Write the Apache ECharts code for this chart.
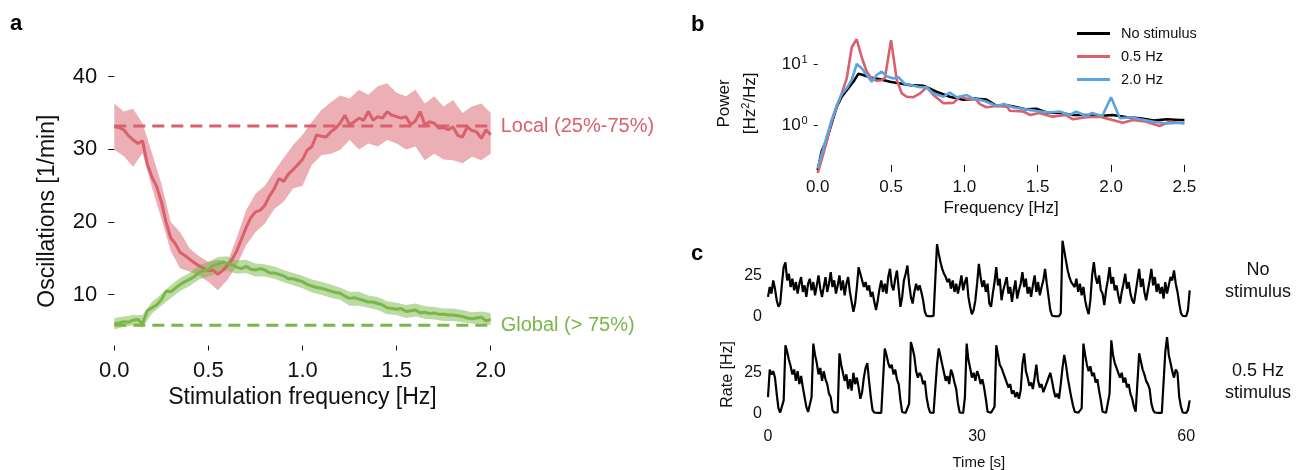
<!DOCTYPE html>
<html>
<head>
<meta charset="utf-8">
<script src="https://cdn.jsdelivr.net/npm/echarts@6/dist/echarts.min.js"></script>
<style>
  html, body { margin: 0; padding: 0; background: #fff; }
  #main { width: 1297px; height: 470px; }
</style>
</head>
<body>
<div id="main"></div>
<script>
// ---- panel a : oscillations vs stimulation frequency ----
var freqMid = [];   // 0 .. 2 Hz, step 0.025
for (var i = 0; i <= 80; i++) freqMid.push(+(i * 0.025).toFixed(3));
var freqBand = [];  // 0 .. 2 Hz, step 0.05
for (var i = 0; i <= 40; i++) freqBand.push(+(i * 0.05).toFixed(2));

var redMid = [33.1, 33.0, 32.7, 31.9, 31.3, 30.8, 31.2, 28.0, 26.2, 24.9,
  22.8, 20.0, 17.8, 17.0, 15.8, 15.4, 14.9, 14.4, 14.0, 13.6,
  13.3, 13.4, 12.8, 13.3, 14.0, 14.8, 16.0, 17.6, 19.2, 20.6,
  21.4, 21.6, 22.3, 23.6, 24.6, 26.0, 25.6, 26.6, 27.2, 27.9,
  28.6, 29.9, 30.4, 32.0, 31.8, 31.7, 32.4, 32.9, 33.6, 34.7,
  33.4, 33.8, 34.3, 34.0, 35.2, 34.0, 34.5, 34.3, 35.2, 34.7,
  34.5, 34.3, 34.5, 33.4, 33.9, 35.2, 33.4, 33.8, 33.6, 32.9,
  33.0, 32.7, 33.1, 31.9, 31.7, 33.1, 32.6, 32.4, 31.5, 32.7, 32.0];
var greenMid = [6.0, 6.1, 6.3, 6.2, 6.5, 6.6, 6.0, 7.8, 8.2, 8.6,
  9.3, 10.5, 10.4, 10.9, 11.4, 11.8, 12.1, 12.5, 13.1, 13.3,
  13.5, 14.0, 14.2, 14.5, 14.3, 14.1, 13.8, 13.6, 13.9, 13.5,
  13.4, 13.6, 13.4, 13.0, 13.0, 12.8, 12.6, 12.2, 12.2, 12.0,
  11.8, 11.4, 11.2, 11.0, 10.9, 10.7, 10.5, 10.3, 10.2, 9.8,
  9.5, 9.6, 9.4, 9.2, 9.0, 9.0, 8.8, 8.6, 8.2, 8.1,
  8.0, 8.1, 7.7, 7.8, 7.9, 7.5, 7.6, 7.4, 7.5, 7.3,
  7.3, 7.2, 7.2, 7.1, 7.0, 6.8, 6.7, 6.8, 6.9, 6.4, 6.6];
var redLow = [29.9, 29.1, 27.6, 29.5, 24.8, 20.5, 16.0, 13.6, 13.2, 12.6,
  11.8, 10.6, 12.0, 14.0, 16.8, 18.6, 19.8, 21.8, 22.8, 24.6,
  25.0, 27.9, 29.2, 29.4, 29.9, 31.3, 30.0, 30.8, 30.4, 31.3,
  30.8, 30.0, 30.4, 28.5, 29.4, 28.6, 28.5, 28.1, 29.0, 28.5, 29.4];
var redHigh = [36.3, 35.2, 35.6, 33.6, 29.5, 25.3, 20.0, 18.6, 16.4, 15.3,
  14.5, 14.8, 14.4, 17.8, 21.6, 23.9, 25.0, 27.0, 28.8, 30.6,
  32.0, 33.8, 35.4, 36.5, 37.4, 37.0, 38.2, 37.5, 38.7, 39.1,
  37.8, 37.3, 38.2, 36.3, 37.3, 35.9, 36.8, 35.0, 35.9, 36.3, 35.0];
var greenLow = [5.2, 5.6, 5.8, 5.5, 7.4, 8.5, 9.5, 10.5, 11.2, 12.1,
  12.5, 13.0, 13.3, 12.9, 13.0, 12.5, 12.5, 12.2, 11.7, 11.3,
  10.9, 10.3, 10.0, 9.6, 9.3, 8.5, 8.5, 8.2, 7.9, 7.3,
  7.2, 6.8, 7.0, 6.7, 6.6, 6.4, 6.4, 6.2, 6.0, 6.0, 5.8];
var greenHigh = [6.8, 7.0, 7.2, 7.2, 9.0, 10.1, 11.3, 12.3, 13.0, 14.1,
  14.5, 15.2, 15.3, 14.7, 14.8, 14.3, 14.2, 13.9, 13.4, 13.0,
  12.6, 12.1, 11.8, 11.4, 11.0, 10.4, 10.4, 9.9, 9.7, 9.1,
  8.9, 8.6, 8.8, 8.4, 8.3, 8.1, 8.1, 7.9, 7.6, 7.7, 7.5];
var localLevel = 33.2;
var globalLevel = 5.8;
var oscTicks = [10, 20, 30, 40];

// ---- panel b : power spectra ----
var fBlack = [0, 0.027, 0.061, 0.095, 0.13, 0.164, 0.198, 0.243, 0.277, 0.311,
  0.357, 0.425, 0.493, 0.561, 0.63, 0.72, 0.81, 0.9, 0.993, 1.08,
  1.15, 1.22, 1.29, 1.36, 1.42, 1.49, 1.56, 1.65, 1.74, 1.83,
  1.92, 2.01, 2.11, 2.2, 2.29, 2.38, 2.47, 2.5];
var pBlack = [0.18, 0.37, 0.57, 1.06, 2.0, 2.9, 3.7, 5.1, 6.9, 6.6,
  6.0, 5.6, 5.1, 4.8, 4.5, 4.4, 3.5, 2.9, 2.6, 2.7,
  2.6, 2.05, 2.1, 1.95, 1.8, 1.85, 1.6, 1.57, 1.46, 1.46,
  1.40, 1.46, 1.34, 1.29, 1.18, 1.24, 1.21, 1.21];
var fRed = [0, 0.027, 0.061, 0.095, 0.13, 0.164, 0.198, 0.232, 0.266, 0.3,
  0.334, 0.368, 0.402, 0.436, 0.459, 0.5, 0.539, 0.573, 0.607, 0.652,
  0.698, 0.743, 0.789, 0.857, 0.925, 0.97, 1.016, 1.08, 1.106, 1.15,
  1.22, 1.29, 1.31, 1.40, 1.45, 1.51, 1.60, 1.69, 1.74, 1.83,
  1.92, 2.01, 2.08, 2.15, 2.24, 2.33, 2.4, 2.5];
var pRed = [0.16, 0.27, 0.53, 1.13, 2.0, 3.3, 5.8, 18.8, 25.4, 12.9,
  7.5, 5.8, 5.3, 5.4, 6.0, 24.6, 5.5, 3.3, 2.9, 2.85,
  3.3, 4.15, 3.1, 2.27, 2.3, 2.9, 2.7, 2.6, 2.2, 1.95,
  2.05, 2.0, 1.71, 1.66, 1.46, 1.57, 1.37, 1.46, 1.24, 1.34,
  1.37, 1.21, 1.09, 1.21, 1.13, 0.96, 1.13, 1.06];
var fBlue = [0, 0.027, 0.061, 0.095, 0.13, 0.164, 0.198, 0.232, 0.266, 0.3,
  0.334, 0.368, 0.402, 0.436, 0.47, 0.516, 0.55, 0.595, 0.641, 0.698,
  0.743, 0.789, 0.857, 0.9, 0.948, 1.016, 1.06, 1.106, 1.15, 1.22,
  1.27, 1.33, 1.42, 1.51, 1.58, 1.65, 1.72, 1.76, 1.83, 1.87,
  1.94, 2.0, 2.06, 2.13, 2.2, 2.29, 2.38, 2.47, 2.5];
var pBlue = [0.195, 0.33, 0.64, 1.21, 2.1, 3.2, 4.0, 5.5, 10.0, 8.5,
  6.6, 5.1, 6.6, 7.5, 6.3, 5.8, 6.1, 4.7, 4.5, 4.15,
  4.15, 3.3, 2.9, 3.4, 2.85, 3.1, 2.7, 2.6, 2.4, 2.05,
  2.2, 1.95, 1.8, 1.67, 1.6, 1.66, 1.46, 1.66, 1.4, 1.57,
  1.40, 2.84, 1.29, 1.34, 1.24, 1.13, 1.06, 1.09, 1.09];
var powerTicks = [1, 10];

// ---- panel c : population rate traces (0.25 s samples) ----
var tTrace = [];
for (var i = 0; i <= 242; i++) tTrace.push(i * 0.25);
var rateNoStim = [
  12, 18, 14, 22, 17, 10, 6, 8,   20, 30, 33, 22, 26, 18, 23, 16,
  21, 14, 20, 24, 15, 19, 12, 20, 23, 16, 21, 13, 19, 25, 17, 12,
  18, 24, 15, 20, 27, 18, 22, 14, 19, 25, 16, 22, 13, 20, 24, 15,
  9, 3, 8, 18, 30, 26, 22, 18,    21, 16, 19, 12, 15, 9, 4, 10,
  17, 22, 15, 20, 14, 24, 29, 19, 16, 23, 28, 17, 6, 12, 22, 26,
  31, 20, 12, 8, 15, 20, 16, 19,  15, 10, 3, 0.5, 0.3, 0.2, 0.3, 0.5,
  1, 44, 38, 33, 29, 26, 24, 21,  23, 17, 22, 15, 20, 14, 19, 25,
  16, 21, 24, 12, 6, 1.5, 4, 10,  20, 32, 24, 18, 22, 15, 20, 8,
  6, 14, 21, 30, 19, 23, 10, 16,  20, 24, 14, 18, 9, 16, 22, 11,
  16, 20, 27, 18, 23, 14, 18, 12, 19, 25, 15, 21, 13, 18, 22, 29,
  20, 12, 4, 0.6, 0.3, 0.2, 0.3, 0.4, 2, 46, 40, 34, 28, 24, 21, 22,
  18, 23, 15, 20, 13, 18, 10, 5,  1.5, 10, 25, 33, 24, 20, 25, 16,
  14, 7, 16, 22, 30, 20, 24, 16,  19, 13, 8, 15, 20, 26, 17, 21,
  14, 10, 8, 15, 22, 29, 18, 23,  15, 10, 16, 22, 29, 19, 24, 15,
  20, 14, 18, 11, 21, 14, 19, 24, 22, 28, 20, 15, 8, 2, 0.5, 0.3,
  0.3, 4, 16];
var rateStim = [
  10, 27, 24, 26, 22, 12, 3, 0.5, 0.3, 8, 42, 38, 33, 29, 24, 27,
  20, 26, 18, 23, 16, 10, 4, 0.8, 0.3, 10, 43, 36, 31, 24, 28, 20,
  26, 21, 18, 12, 10, 2, 0.5, 0.3, 0.5, 37, 30, 25, 20, 24, 15, 21,
  14, 25, 18, 22, 16, 9, 13, 22,  28, 31, 20, 10, 2, 0.5, 0.3, 0.3,
  0.3, 0.3, 0.5, 40, 36, 31, 28, 30, 24, 27, 21, 18, 8, 0.8, 0.3, 0.3,
  0.3, 6, 44, 40, 35, 26, 22, 25, 23, 18, 20, 10, 4, 0.5, 0.3, 0.3,
  0.5, 30, 40, 35, 30, 25, 20, 23, 18, 27, 24, 19, 15, 6, 0.5, 0.3,
  0.3, 10, 43, 33, 28, 22, 25, 20, 26, 23, 18, 21, 16, 9, 1, 0.3,
  0.3, 0.3, 4, 42, 36, 30, 28, 25, 22, 19, 16, 18, 12, 14, 10, 13,
  9, 14, 30, 37, 26, 22, 17, 19,  15, 22, 30, 20, 16, 18, 13, 16,
  19, 22, 25, 20, 14, 10, 12, 9,  18, 28, 36, 30, 22, 16, 10, 5,
  1, 0.3, 0.3, 0.3, 3, 43, 36, 30, 26, 29, 23, 25, 19, 21, 14, 8,
  1, 0.3, 0.3, 0.5, 12, 45, 36, 31, 28, 25, 22, 25, 19, 22, 16, 18,
  12, 9, 4, 1, 0.5, 37, 32, 27,   24, 20, 18, 15, 6, 2, 0.5, 0.3,
  0.3, 0.3, 0.3, 0.5, 38, 47, 36, 31, 26, 22, 27, 25, 10, 4, 0.5, 0.3,
  0.3, 2, 8];
var rateTicks = [0, 25];
var timeTicks = [0, 30, 60];

var RED = '#d9606c', GREEN = '#7ab648', BLUE = '#5aa5e0';
var FONT = 'Liberation Sans, Arial, sans-serif';
var INK = '#111';

function zip(xs, ys) {
  var out = [];
  for (var k = 0; k < Math.min(xs.length, ys.length); k++) out.push([xs[k], ys[k]]);
  return out;
}

// shaded 25-75% band, drawn once as one polygon through the axis scales
function bandSeries(xs, lo, hi, fill) {
  var rows = [];
  for (var k = 0; k < xs.length; k++) rows.push([xs[k], lo[k], hi[k]]);
  return {
    type: 'custom', xAxisIndex: 0, yAxisIndex: 0, silent: true, z: 1,
    encode: { x: 0, y: [1, 2] },
    data: rows,
    renderItem: function (params, api) {
      if (params.dataIndex !== 0) return null;
      var pts = [];
      for (var k = 0; k < rows.length; k++) pts.push(api.coord([rows[k][0], rows[k][2]]));
      for (var k = rows.length - 1; k >= 0; k--) pts.push(api.coord([rows[k][0], rows[k][1]]));
      return { type: 'polygon', shape: { points: pts }, style: { fill: fill } };
    }
  };
}

var myChart = echarts.init(document.getElementById('main'), null, {renderer: 'canvas'});

var option = {
  animation: false,
  backgroundColor: '#fff',
  textStyle: { fontFamily: FONT },
  grid: [
    { left: 114.3, top: 76.7, width: 376.4, height: 268.9, outerBoundsMode: 'none' },
    { left: 817.7, top: 34.9, width: 366.7, height: 137, outerBoundsMode: 'none' },
    { left: 768, top: 237.5, width: 421.7, height: 79.2, outerBoundsMode: 'none' },
    { left: 768, top: 335.5, width: 421.7, height: 77.8, outerBoundsMode: 'none' }
  ],
  legend: {
    orient: 'vertical', left: 1077, top: 26, itemGap: 8, padding: 0,
    itemWidth: 33, itemHeight: 3, icon: 'rect',
    textStyle: { fontSize: 14.5, color: INK, fontFamily: FONT, padding: [0, 0, 0, 6] },
    data: ['No stimulus', '0.5 Hz', '2.0 Hz']
  },
  xAxis: [
    { gridIndex: 0, type: 'value', min: 0, max: 2, interval: 0.5,
      axisLine: { show: false }, splitLine: { show: false },
      axisTick: { show: true, length: 5, lineStyle: { color: INK, width: 1 } },
      axisLabel: { fontSize: 22, color: INK, margin: 14, formatter: function (v) { return v.toFixed(1); } },
      name: 'Stimulation frequency [Hz]', nameLocation: 'middle', nameGap: 40,
      nameTextStyle: { fontSize: 23, color: INK } },
    { gridIndex: 1, type: 'value', min: 0, max: 2.5, interval: 0.5,
      axisLine: { show: false }, splitLine: { show: false },
      axisTick: { show: true, inside: true, length: 7, lineStyle: { color: INK } },
      axisLabel: { fontSize: 17, color: INK, margin: 7, formatter: function (v) { return v.toFixed(1); } },
      name: 'Frequency [Hz]', nameLocation: 'middle', nameGap: 28,
      nameTextStyle: { fontSize: 17, color: INK } },
    { gridIndex: 2, type: 'value', min: 0, max: 60.5,
      axisLine: { show: false }, splitLine: { show: false },
      axisTick: { show: false }, axisLabel: { show: false } },
    { gridIndex: 3, type: 'value', min: 0, max: 60.5,
      axisLine: { show: false }, splitLine: { show: false }, axisTick: { show: false },
      axisLabel: { customValues: timeTicks, fontSize: 16, color: INK, margin: 15 },
      name: 'Time [s]', nameLocation: 'middle', nameGap: 42,
      nameTextStyle: { fontSize: 15, color: INK } }
  ],
  yAxis: [
    { gridIndex: 0, type: 'value', min: 3, max: 40,
      axisLine: { show: false }, splitLine: { show: false },
      axisTick: { show: true, length: 6, customValues: oscTicks, lineStyle: { color: INK } },
      axisLabel: { customValues: oscTicks, fontSize: 22, color: INK, margin: 17 },
      name: 'Oscillations [1/min]', nameLocation: 'middle', nameGap: 55,
      nameTextStyle: { fontSize: 23, color: INK } },
    { gridIndex: 1, type: 'log', logBase: 10, min: 0.17, max: 30,
      axisLine: { show: false }, splitLine: { show: false },
      axisTick: { show: true, length: 4, customValues: powerTicks, lineStyle: { color: INK } },
      axisLabel: { customValues: powerTicks, fontSize: 17, color: INK, margin: 10,
        formatter: function (v) { return '10{s|' + Math.round(Math.log(v) / Math.LN10) + '}'; },
        rich: { s: { fontSize: 11, color: INK, padding: [0, 0, 9, 1] } } },
      name: 'Power\n[Hz{s|2}/Hz]', nameLocation: 'middle', nameGap: 54,
      nameTextStyle: { fontSize: 17, color: INK, lineHeight: 26,
        rich: { s: { fontSize: 11, color: INK, padding: [0, 0, 9, 0] } } } },
    { gridIndex: 2, type: 'value', min: 0, max: 48,
      axisLine: { show: false }, splitLine: { show: false }, axisTick: { show: false },
      axisLabel: { customValues: rateTicks, fontSize: 16, color: INK, margin: 6 } },
    { gridIndex: 3, type: 'value', min: 0, max: 48,
      axisLine: { show: false }, splitLine: { show: false }, axisTick: { show: false },
      axisLabel: { customValues: rateTicks, fontSize: 16, color: INK, margin: 6 },
      name: 'Rate [Hz]', nameLocation: 'middle', nameGap: 32,
      nameTextStyle: { fontSize: 16, color: INK } }
  ],
  series: [
    // bands (a)
    bandSeries(freqBand, redLow, redHigh, 'rgba(217,96,108,0.5)'),
    bandSeries(freqBand, greenLow, greenHigh, 'rgba(122,182,72,0.5)'),
    // reference levels (a)
    { type: 'line', xAxisIndex: 0, yAxisIndex: 0, symbol: 'none', z: 2,
      lineStyle: { color: RED, width: 3, type: [12, 7] },
      data: [[0, localLevel], [2, localLevel]],
      endLabel: { show: true, formatter: 'Local (25%-75%)', color: RED, fontSize: 20, distance: 10, fontFamily: FONT } },
    { type: 'line', xAxisIndex: 0, yAxisIndex: 0, symbol: 'none', z: 2,
      lineStyle: { color: GREEN, width: 3, type: [12, 7] },
      data: [[0, globalLevel], [2, globalLevel]],
      endLabel: { show: true, formatter: 'Global (> 75%)', color: GREEN, fontSize: 20, distance: 10, fontFamily: FONT } },
    // medians (a)
    { type: 'line', xAxisIndex: 0, yAxisIndex: 0, symbol: 'none', z: 3,
      lineStyle: { color: RED, width: 3 }, data: zip(freqMid, redMid) },
    { type: 'line', xAxisIndex: 0, yAxisIndex: 0, symbol: 'none', z: 3,
      lineStyle: { color: GREEN, width: 3 }, data: zip(freqMid, greenMid) },
    // spectra (b)
    { name: 'No stimulus', type: 'line', xAxisIndex: 1, yAxisIndex: 1, symbol: 'none',
      color: '#000', lineStyle: { color: '#000', width: 2.6 }, data: zip(fBlack, pBlack) },
    { name: '0.5 Hz', type: 'line', xAxisIndex: 1, yAxisIndex: 1, symbol: 'none',
      color: RED, lineStyle: { color: RED, width: 2.6 }, data: zip(fRed, pRed) },
    { name: '2.0 Hz', type: 'line', xAxisIndex: 1, yAxisIndex: 1, symbol: 'none',
      color: BLUE, lineStyle: { color: BLUE, width: 2.6 }, data: zip(fBlue, pBlue) },
    // traces (c)
    { type: 'line', xAxisIndex: 2, yAxisIndex: 2, symbol: 'none',
      lineStyle: { color: '#000', width: 2.2 }, data: zip(tTrace, rateNoStim) },
    { type: 'line', xAxisIndex: 3, yAxisIndex: 3, symbol: 'none',
      lineStyle: { color: '#000', width: 2.2 }, data: zip(tTrace, rateStim) }
  ],
  graphic: [
    { type: 'text', x: 10, y: 23.5, style: { text: 'a', font: 'bold 22px ' + FONT, fill: '#000', textVerticalAlign: 'middle' } },
    { type: 'text', x: 691, y: 25, style: { text: 'b', font: 'bold 22px ' + FONT, fill: '#000', textVerticalAlign: 'middle' } },
    { type: 'text', x: 691, y: 254, style: { text: 'c', font: 'bold 22px ' + FONT, fill: '#000', textVerticalAlign: 'middle' } },
    { type: 'text', x: 1258, y: 281, style: { text: 'No\nstimulus', font: '18px ' + FONT, fill: INK,
      textAlign: 'center', textVerticalAlign: 'middle', lineHeight: 22 } },
    { type: 'text', x: 1258, y: 382, style: { text: '0.5 Hz\nstimulus', font: '18px ' + FONT, fill: INK,
      textAlign: 'center', textVerticalAlign: 'middle', lineHeight: 22 } }
  ]
};

myChart.setOption(option);
</script>
</body>
</html>
